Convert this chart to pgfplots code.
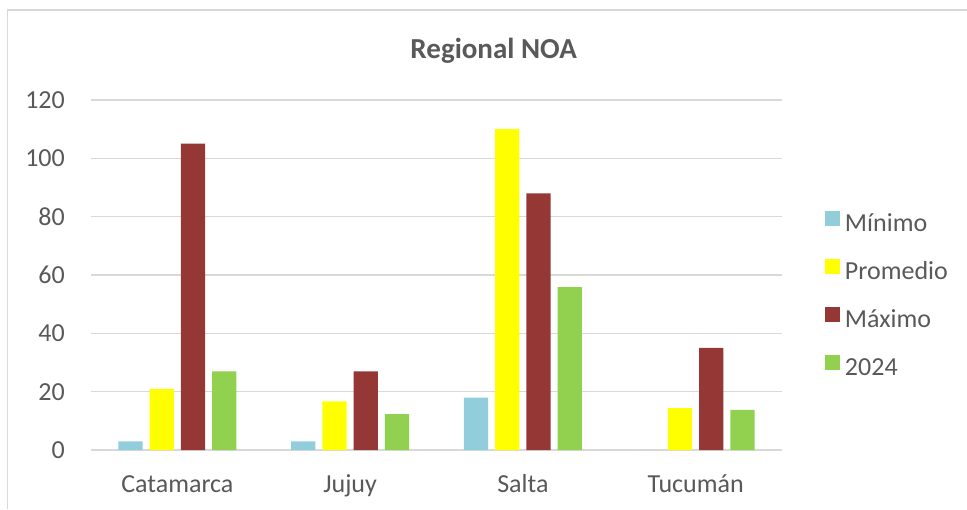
\documentclass[border=0pt]{standalone}
\usepackage{fontspec}
\setmainfont{Carlito}
\usepackage{pgfplots}
\pgfplotsset{compat=1.18}
\definecolor{cmin}{RGB}{146,205,220}
\definecolor{cprom}{RGB}{255,255,0}
\definecolor{cmax}{RGB}{149,55,53}
\definecolor{cact}{RGB}{146,208,80}
\definecolor{txt}{RGB}{89,89,89}
\definecolor{gridc}{RGB}{217,217,217}
\pgfplotsset{sqlegend/.style={legend image code/.code={\fill[##1] (0pt,0pt) rectangle (15pt,15pt);}}}
\begin{document}
\begin{tikzpicture}[x=1pt,y=1pt]
\useasboundingbox (0,0) rectangle (967,509);
\draw[color=gridc, line width=1.5pt] (7.5,0) -- (7.5,499) -- (967,499);
\node[font=\fontsize{29}{34}\selectfont\bfseries, text=txt, anchor=base] at (493.7,450.7) {Regional NOA};
\begin{axis}[
  at={(91pt,59pt)}, anchor=south west,
  scale only axis, width=691pt, height=350pt,
  xmin=-0.5, xmax=3.5, ymin=0, ymax=120,
  ytick={0,20,...,120},
  xtick={0,1,2,3},
  xticklabels={Catamarca,Jujuy,Salta,Tucumán},
  ybar=7pt, bar width=24.3pt,
  axis line style={draw=none},
  major tick length=0pt,
  ymajorgrids, grid style={color=gridc, line width=1.3pt},
  tick label style={font=\fontsize{26}{31}\selectfont, text=txt},
  /pgf/number format/assume math mode=true,
  yticklabel style={anchor=east, inner sep=0pt, xshift=-26pt},
  xticklabel style={anchor=base, inner sep=0pt, yshift=-42.3pt},
  legend cell align=left,
  legend style={at={(1.0622,0.440)}, anchor=west, draw=none, fill=none,
    inner sep=0pt, outer sep=0pt, row sep=21.5pt,
    font=\fontsize{26}{31}\selectfont, text=txt,
    nodes={inner sep=0pt, text height=17pt, text depth=6pt},
    /tikz/every odd column/.append style={column sep=5pt}},
]
\addplot[fill=cmin, draw=none, sqlegend] coordinates {(0,3) (1,3) (2,18) (3,0)};
\addplot[fill=cprom, draw=none, sqlegend] coordinates {(0,21) (1,16.7) (2,110) (3,14.4)};
\addplot[fill=cmax, draw=none, sqlegend] coordinates {(0,105) (1,27) (2,88) (3,35)};
\addplot[fill=cact, draw=none, sqlegend] coordinates {(0,27) (1,12.3) (2,55.8) (3,13.8)};
\legend{Mínimo,Promedio,Máximo,2024}
\end{axis}
\end{tikzpicture}
\end{document}
